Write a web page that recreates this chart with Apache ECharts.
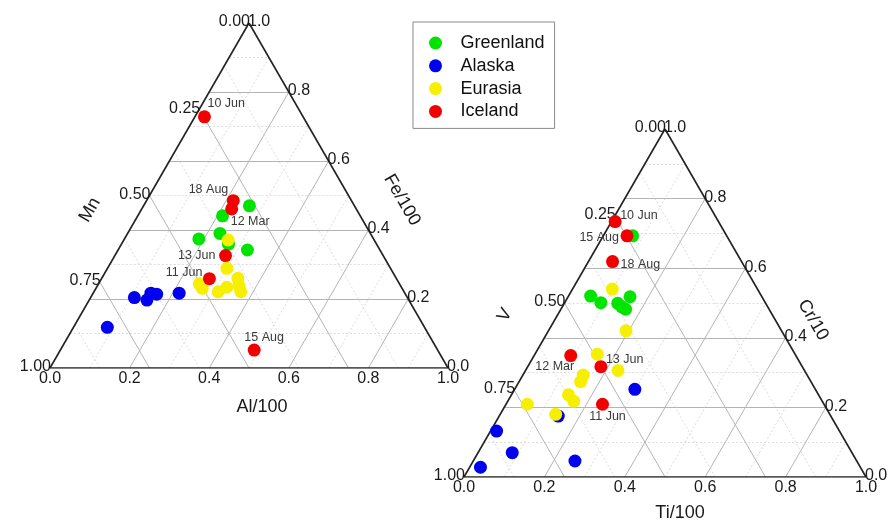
<!DOCTYPE html>
<html>
<head>
<meta charset="utf-8">
<script src="https://cdn.jsdelivr.net/npm/echarts@6/dist/echarts.min.js"></script>
<style>html,body{margin:0;padding:0;background:#fff}#chart{width:888px;height:526px}</style>
</head>
<body>
<div id="chart"></div>
<script>
// ---------- DATA (ternary compositions) ----------
// Left diagram: [Al/100, Fe/100, Mn]
const leftGreenland = [[0.266,0.470,0.264],[0.213,0.441,0.346],[0.232,0.390,0.378],[0.187,0.374,0.439],[0.269,0.359,0.372],[0.325,0.342,0.333]];
const leftAlaska = [[0.110,0.204,0.686],[0.145,0.197,0.658],[0.145,0.217,0.638],[0.161,0.214,0.625],[0.216,0.217,0.567],[0.085,0.118,0.797]];
const leftEurasia = [[0.262,0.371,0.367],[0.300,0.289,0.411],[0.253,0.244,0.503],[0.267,0.231,0.502],[0.342,0.260,0.398],[0.355,0.239,0.406],[0.369,0.221,0.410],[0.312,0.221,0.467],[0.327,0.234,0.439]];
const leftIceland = [[0.024,0.728,0.248],[0.218,0.485,0.297],[0.226,0.461,0.313],[0.278,0.326,0.396],[0.271,0.259,0.470],[0.487,0.052,0.461]];
const leftIcelandLabels = ['10 Jun','18 Aug','12 Mar','13 Jun','11 Jun','15 Aug'];

// Right diagram: [Ti/100, Cr/10, V]
const rightGreenland = [[0.073,0.693,0.234],[0.055,0.520,0.425],[0.090,0.501,0.409],[0.133,0.499,0.368],[0.154,0.518,0.328],[0.148,0.489,0.363],[0.161,0.482,0.357]];
const rightAlaska = [[0.299,0.252,0.449],[0.147,0.175,0.678],[0.015,0.132,0.853],[0.085,0.070,0.845],[0.027,0.028,0.945],[0.253,0.046,0.701]];
const rightEurasia = [[0.099,0.540,0.361],[0.193,0.420,0.387],[0.155,0.353,0.492],[0.230,0.306,0.464],[0.150,0.293,0.557],[0.153,0.274,0.573],[0.142,0.236,0.622],[0.164,0.218,0.618],[0.053,0.209,0.738],[0.138,0.180,0.682]];
const rightIceland = [[0.009,0.734,0.257],[0.059,0.693,0.248],[0.060,0.619,0.321],[0.091,0.349,0.560],[0.182,0.317,0.501],[0.240,0.209,0.551]];
const rightIcelandLabels = ['10 Jun','15 Aug','18 Aug','12 Mar','13 Jun','11 Jun'];

// Tick values and labels
const bottomTicks = [0, 0.2, 0.4, 0.6, 0.8, 1.0];
const bottomTickLabels = ['0.0','0.2','0.4','0.6','0.8','1.0'];
const rightTicks = [0, 0.2, 0.4, 0.6, 0.8, 1.0];
const rightTickLabels = ['0.0','0.2','0.4','0.6','0.8','1.0'];
const leftTicks = [0, 0.25, 0.5, 0.75, 1.0];
const leftTickLabels = ['0.00','0.25','0.50','0.75','1.00'];
const bottomMinor = [0.1, 0.3, 0.5, 0.7, 0.9];
const rightMinor = [0.1, 0.3, 0.5, 0.7, 0.9];
const leftMinor = [0.125, 0.375, 0.625, 0.875];

const seriesNames = ['Greenland','Alaska','Eurasia','Iceland'];
const colors = {Greenland:'#00e400', Alaska:'#0000f0', Eurasia:'#f7ef00', Iceland:'#f20000'};

// ---------- helpers ----------
const H = Math.sqrt(3) / 2;
// b = bottom-axis component, c = right-axis component
function toXY(b, c) { return [b + 0.5 * c, c * H]; }

const FONT = 'Liberation Sans, Arial, Helvetica, sans-serif';

// label placements for Iceland points: [align, dx, dy]
const leftPlace = [['left',3,-13],['right',-5,-11],['left',-1,13],['right',-10,0],['right',-7,-6],['center',10,-13]];
const rightPlace = [['left',5,-6],['right',-8,2],['left',8,3],['center',-16,11],['left',5,-7],['center',5,12]];

function gridSeries(idx) {
  const major = [], minor = [];
  bottomTicks.slice(1, -1).forEach(a => major.push({coords: [toXY(a, 0), toXY(a, 1 - a)]}));
  rightTicks.slice(1, -1).forEach(c => major.push({coords: [toXY(0, c), toXY(1 - c, c)]}));
  leftTicks.slice(1, -1).forEach(m => major.push({coords: [toXY(1 - m, 0), toXY(0, 1 - m)]}));
  bottomMinor.forEach(a => minor.push({coords: [toXY(a, 0), toXY(a, 1 - a)]}));
  rightMinor.forEach(c => minor.push({coords: [toXY(0, c), toXY(1 - c, c)]}));
  leftMinor.forEach(m => minor.push({coords: [toXY(1 - m, 0), toXY(0, 1 - m)]}));
  const edges = [
    {coords: [toXY(0, 0), toXY(1, 0)]},
    {coords: [toXY(1, 0), toXY(0, 1)]},
    {coords: [toXY(0, 1), toXY(0, 0)]}
  ];
  const common = {type: 'lines', coordinateSystem: 'cartesian2d', xAxisIndex: idx, yAxisIndex: idx, silent: true, symbol: 'none', animation: false};
  return [
    Object.assign({}, common, {z: 1, data: minor, lineStyle: {color: '#dcdcdc', width: 1, type: [2, 2], opacity: 1}}),
    Object.assign({}, common, {z: 2, data: major, lineStyle: {color: '#b4b4b4', width: 1, type: 'solid', opacity: 1}}),
    Object.assign({}, common, {z: 3, data: edges, lineStyle: {color: '#222', width: 1.6, type: 'solid', opacity: 1}})
  ];
}

function tickSeries(idx) {
  const data = [];
  const lab = (pos, text, align, dx, dy) => ({
    value: pos,
    label: {show: true, position: 'inside', formatter: text, align: align, verticalAlign: 'middle', offset: [dx, dy],
      fontSize: 16, fontFamily: FONT, color: '#1a1a1a', opacity: 1}
  });
  bottomTicks.forEach((a, i) => data.push(lab(toXY(a, 0), bottomTickLabels[i], 'center', 0, 11)));
  rightTicks.forEach((c, i) => data.push(lab(toXY(1 - c, c), rightTickLabels[i], 'left', -1, -1)));
  leftTicks.forEach((m, i) => data.push(lab(toXY(0, 1 - m), leftTickLabels[i], 'right', 1, -1)));
  return {type: 'scatter', xAxisIndex: idx, yAxisIndex: idx, silent: true, symbolSize: 1, z: 4,
    itemStyle: {color: 'transparent', opacity: 1}, data: data, animation: false};
}

function pointSeries(idx, name, pts, labels, place) {
  return {
    type: 'scatter', name: name, xAxisIndex: idx, yAxisIndex: idx, symbol: 'circle', symbolSize: 13, z: 5,
    itemStyle: {color: colors[name], opacity: 1},
    animation: false,
    data: pts.map((p, i) => {
      const item = {value: toXY(p[0], p[1])};
      if (labels) {
        const pl = place[i];
        item.label = {show: true, position: 'inside', formatter: labels[i], align: pl[0], verticalAlign: 'middle',
          offset: [pl[1], pl[2]], fontSize: 12.5, fontFamily: FONT, color: '#3a3a3a'};
      }
      return item;
    })
  };
}

const series = [].concat(
  gridSeries(0), gridSeries(1),
  [tickSeries(0), tickSeries(1)],
  [
    pointSeries(0, 'Alaska', leftAlaska),
    pointSeries(0, 'Greenland', leftGreenland),
    pointSeries(0, 'Eurasia', leftEurasia),
    pointSeries(0, 'Iceland', leftIceland, leftIcelandLabels, leftPlace),
    pointSeries(1, 'Alaska', rightAlaska),
    pointSeries(1, 'Greenland', rightGreenland),
    pointSeries(1, 'Eurasia', rightEurasia),
    pointSeries(1, 'Iceland', rightIceland, rightIcelandLabels, rightPlace)
  ]
);

function titleText(text, x, y, rot) {
  return {type: 'text', x: x, y: y, rotation: rot, z: 10, silent: true,
    style: {text: text, align: 'center', verticalAlign: 'middle', textAlign: 'center', textVerticalAlign: 'middle',
      fontSize: 18, fontFamily: FONT, fill: '#1a1a1a'}};
}

const chart = echarts.init(document.getElementById('chart'), null, {renderer: 'canvas'});
chart.setOption({
  animation: false,
  backgroundColor: '#ffffff',
  grid: [
    {left: 50, top: 23, width: 398, height: 345},
    {left: 464, top: 129, width: 402, height: 348}
  ],
  xAxis: [
    {type: 'value', gridIndex: 0, min: 0, max: 1, show: false},
    {type: 'value', gridIndex: 1, min: 0, max: 1, show: false}
  ],
  yAxis: [
    {type: 'value', gridIndex: 0, min: 0, max: H, show: false},
    {type: 'value', gridIndex: 1, min: 0, max: H, show: false}
  ],
  legend: {
    data: seriesNames,
    orient: 'vertical',
    left: 413, top: 22,
    icon: 'circle',
    itemWidth: 40, itemHeight: 13, itemGap: 4.8,
    padding: [12, 10, 8, 16],
    borderColor: '#8a8a8a', borderWidth: 1,
    selectedMode: false,
    textStyle: {fontSize: 18, fontFamily: FONT, color: '#111', lineHeight: 18}
  },
  graphic: [
    titleText('Al/100', 262, 407, 0),
    titleText('Mn', 90, 210, Math.PI / 3),
    titleText('Fe/100', 402, 200, -Math.PI / 3),
    titleText('Ti/100', 680, 513, 0),
    titleText('V', 505, 315, Math.PI / 3),
    titleText('Cr/10', 813, 320, -Math.PI / 3)
  ],
  series: series
});
</script>
</body>
</html>
